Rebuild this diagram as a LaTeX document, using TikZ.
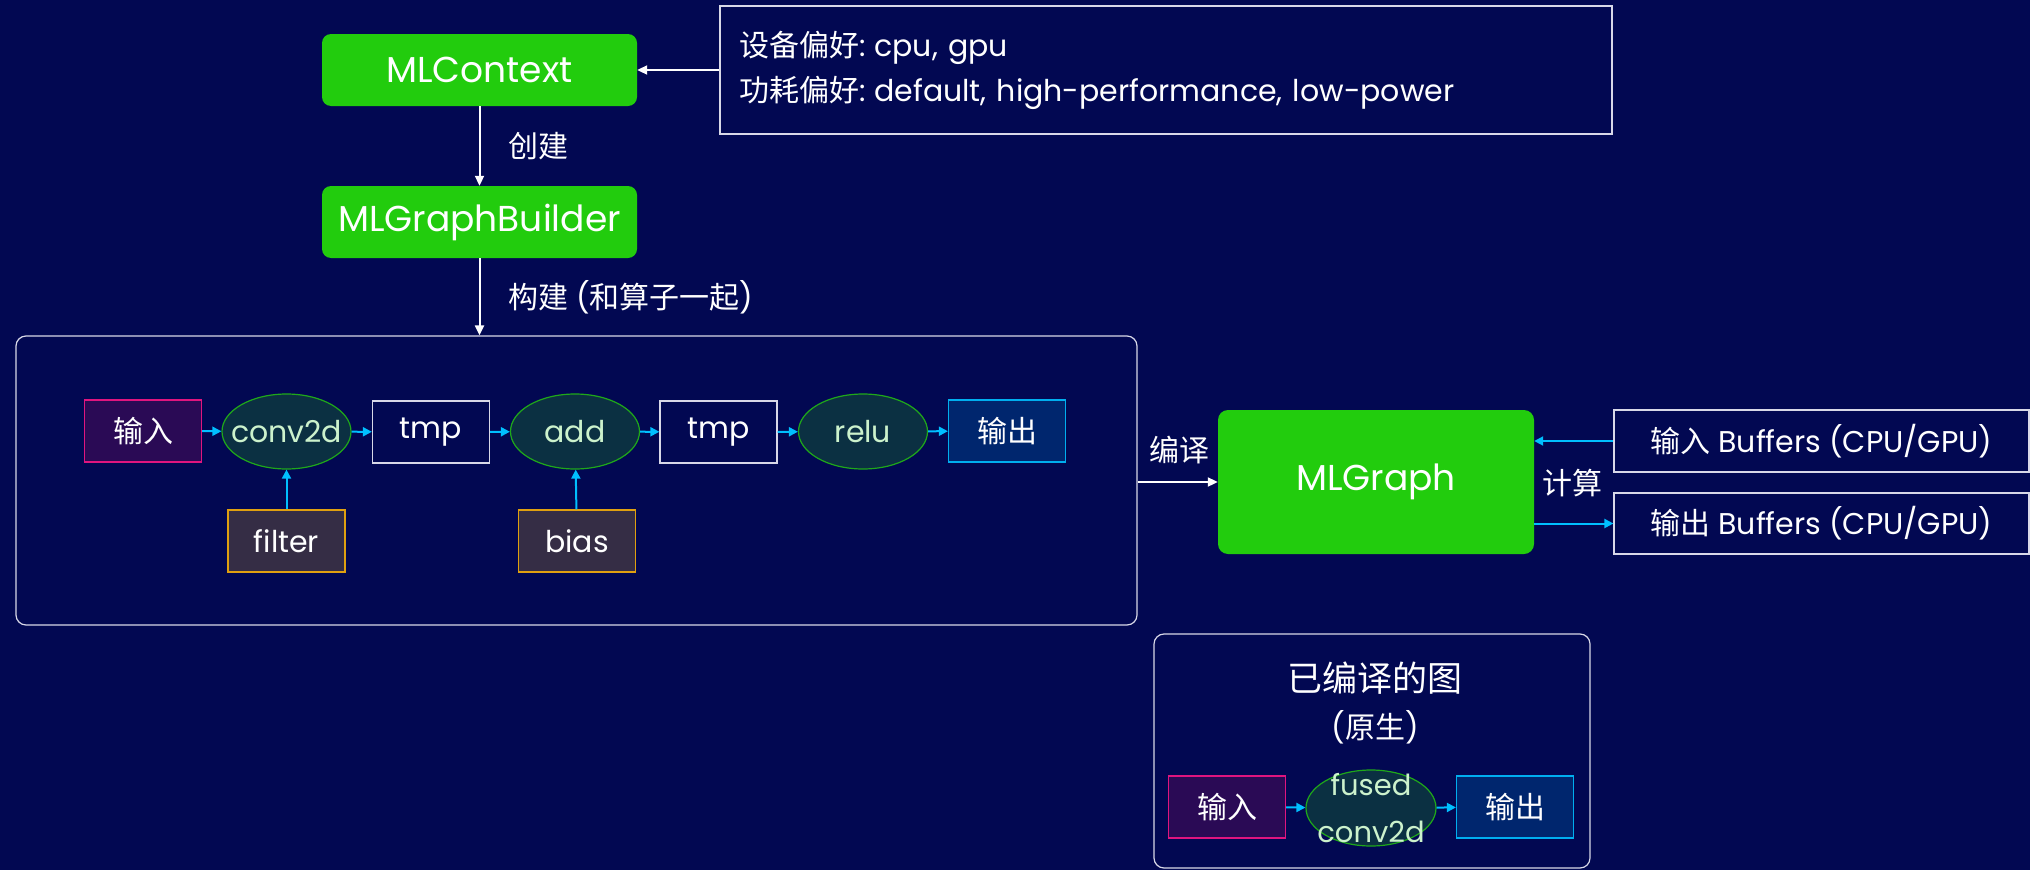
\documentclass[tikz,border=0pt]{standalone}
\usepackage{fontspec}
\setmainfont{Poppins}
\newfontfamily\cjk{Noto Sans CJK SC}
\usetikzlibrary{arrows.meta,shapes.geometric}
\definecolor{bg}{HTML}{020852}
\definecolor{mlgreen}{HTML}{22CC0D}
\definecolor{opfill}{HTML}{0B3042}
\definecolor{opdraw}{HTML}{1FA81A}
\definecolor{optext}{HTML}{CCF2CC}
\definecolor{infill}{HTML}{2A0A55}
\definecolor{indraw}{HTML}{E0157F}
\definecolor{outfill}{HTML}{00266E}
\definecolor{outdraw}{HTML}{00AEEF}
\definecolor{cfill}{HTML}{352D45}
\definecolor{cdraw}{HTML}{E0A010}
\definecolor{cyanarr}{HTML}{00BFFF}
\definecolor{frame}{HTML}{D8D8E8}
\newcommand\myfs[2]{\fontsize{#1}{#2}\selectfont}
\newcommand\zw[1]{\makebox[0pt]{#1}}
\begin{document}
\begin{tikzpicture}[x=1pt,y=-1pt,
  mlbox/.style={rectangle, rounded corners=9pt, fill=mlgreen, text=white, inner sep=0pt, font=\myfs{36}{42}},
  plainbox/.style={rectangle, draw=frame, line width=1.2pt, text=white, inner sep=0pt, font=\myfs{30}{36}},
  groupbox/.style={rectangle, rounded corners=10pt, draw=frame, line width=1.2pt, inner sep=0pt},
  tensor/.style={rectangle, line width=1.2pt, text=white, inner sep=0pt, minimum width=117pt, minimum height=62pt, font=\myfs{30}{36}},
  inbox/.style={tensor, draw=indraw, fill=infill},
  outbox/.style={tensor, draw=outdraw, fill=outfill},
  tmpbox/.style={tensor, draw=frame, fill=bg},
  constbox/.style={tensor, draw=cdraw, fill=cfill},
  opnode/.style={ellipse, draw=opdraw, fill=opfill, line width=1.2pt, text=optext, inner sep=0pt, minimum width=129pt, minimum height=75pt, font=\myfs{30}{36}},
  lbl/.style={text=white, inner sep=0pt, font=\myfs{30}{36}},
  warrow/.style={draw=white, line width=2pt, -{Triangle[length=10pt,width=9pt]}},
  carrow/.style={draw=cyanarr, line width=2pt, -{Triangle[length=9pt,width=9pt]}}
]
\fill[bg] (0,0) rectangle (2030,870);
\useasboundingbox (0,0) rectangle (2030,870);

% top nodes
\node[mlbox, minimum width=315pt, minimum height=72pt] (ctx) at (479.5,70) {MLContext};
\node[mlbox, minimum width=315pt, minimum height=72pt] (builder) at (479.5,222) {MLGraphBuilder};
\node[plainbox, minimum width=892pt, minimum height=128pt, align=left, text width=854pt, font=\myfs{30}{45}] (prefs) at (1166,70)
  {{\cjk 设备偏好}:\hspace{9pt}cpu, gpu\\{\cjk 功耗偏好}:\hspace{9pt}default, high-performance, low-power};
\draw[warrow] (prefs.west) -- (ctx.east);
\draw[warrow] (ctx.south) -- (builder.north);
\node[lbl, anchor=west] (lcreate) at (508,146) {\cjk 创建};

% graph group
\node[groupbox, minimum width=1121pt, minimum height=289pt] (group) at (576.5,480.5) {};
\coordinate (gtop) at (builder.south |- group.north);
\draw[warrow] (builder.south) -- (gtop);
\node[lbl, anchor=west] (lbuild) at (508,297) {{\cjk 构建} ({\cjk 和算子一起})};

\node[inbox] (in) at (143,431) {\cjk 输入};
\node[opnode] (conv) at (286.5,431.5) {\zw{conv2d}};
\node[tmpbox] (tmpa) at (431,432) {tmp};
\node[opnode] (add) at (575,431.5) {\zw{add}};
\node[tmpbox] (tmpb) at (718.5,432) {tmp};
\node[opnode] (relu) at (863,431.5) {\zw{relu}};
\node[outbox] (out) at (1007,431) {\cjk 输出};
\node[constbox] (filter) at (286.5,541) {filter};
\node[constbox] (bias) at (577,541) {bias};
\draw[carrow] (in) -- (conv);
\draw[carrow] (conv) -- (tmpa);
\draw[carrow] (tmpa) -- (add);
\draw[carrow] (add) -- (tmpb);
\draw[carrow] (tmpb) -- (relu);
\draw[carrow] (relu) -- (out);
\draw[carrow] (filter) -- (conv);
\draw[carrow] (bias) -- (add);

% MLGraph
\node[mlbox, rounded corners=10pt, minimum width=316pt, minimum height=144pt] (graph) at (1376,482) {MLGraph};
\draw[warrow] (group.east |- graph.west) -- (graph.west);
\node[lbl] (lcompile) at (1179,450) {\cjk 编译};

\node[plainbox, minimum width=415pt, minimum height=62pt] (inbuf) at (1821.5,441) {{\cjk 输入} Buffers (CPU/GPU)};
\node[plainbox, minimum width=415pt, minimum height=61pt] (outbuf) at (1821.5,523.5) {{\cjk 输出} Buffers (CPU/GPU)};
\draw[carrow] (inbuf.west) -- (inbuf.west -| graph.east);
\draw[carrow] (outbuf.west -| graph.east) -- (outbuf.west);
\node[lbl] (lcompute) at (1572,483) {\cjk 计算};

% compiled graph
\node[groupbox, minimum width=436pt, minimum height=234pt] (compiled) at (1372,751) {};
\node[text=white, inner sep=0pt, font=\myfs{35}{42}] (ctitle) at (1375,678) {\cjk 已编译的图};
\node[text=white, inner sep=0pt, font=\myfs{30}{36}] (csub) at (1375,727) {({\cjk 原生})};
\node[inbox] (cin) at (1227,807) {\cjk 输入};
\node[opnode, minimum width=130pt, minimum height=76pt,
  label={[text=optext, inner sep=0pt, align=center, font=\myfs{29}{47}]center:fused\\conv2d}] (fused) at (1371,808) {};
\node[outbox] (cout) at (1515,807) {\cjk 输出};
\draw[carrow] (cin) -- (fused);
\draw[carrow] (fused) -- (cout);
\end{tikzpicture}
\end{document}
